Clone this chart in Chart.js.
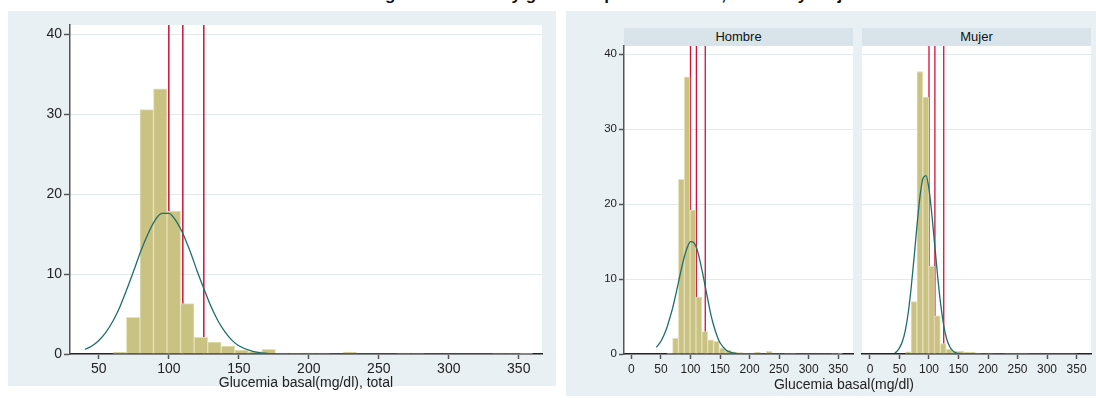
<!DOCTYPE html>
<html><head><meta charset="utf-8">
<script src="https://cdn.jsdelivr.net/npm/chart.js@4.4.1/dist/chart.umd.min.js"></script>
<style>
html,body{margin:0;padding:0;background:#fff;width:1096px;height:403px;overflow:hidden;font-family:"Liberation Sans",Arial,sans-serif;}
.bg{position:absolute;background:#e9f0f3;}
.strip{position:absolute;background:#d8e4ea;color:#111;font-size:13px;text-align:center;line-height:18px;}
canvas{position:absolute;}
#title{position:absolute;left:0;width:1096px;top:-15px;text-align:center;font-weight:bold;font-size:17px;line-height:20px;color:#111;white-space:nowrap;}
#xtitleSex{position:absolute;left:744px;width:200px;top:376px;text-align:center;font-size:14px;color:#222;}
</style>
</head><body>
<div id="title">Distribución de la glucemia basal y glucemia por sexo: total, hombre y mujer</div>
<div class="bg" style="left:8px;top:11px;width:548px;height:375px;"></div>
<div class="bg" style="left:566px;top:11px;width:530px;height:385px;"></div>
<div class="strip" id="s0" style="left:624px;top:28px;width:229px;height:18px;"></div>
<div class="strip" id="s1" style="left:862px;top:28px;width:229px;height:18px;"></div>
<canvas id="cTotal" width="548" height="390" style="left:8px;top:11px;"></canvas>
<canvas id="cHombre" width="292" height="390" style="left:566px;top:11px;"></canvas>
<canvas id="cMujer" width="238" height="390" style="left:858px;top:11px;"></canvas>
<div id="xtitleSex"></div>
<script>
// ---- data ----
const binCentersTotal = [64.84, 74.52, 84.20, 93.88, 103.56, 113.24, 122.92, 132.60, 142.28, 151.96, 161.64, 171.32, 181.00, 190.68, 200.36, 210.04, 219.72, 229.40, 239.08, 248.76, 258.44, 268.12, 277.80, 287.48, 297.16, 306.84, 316.52, 326.20, 335.88, 345.56, 355.24];
const pctTotal = [0.2, 4.6, 30.6, 33.2, 17.9, 6.3, 2.1, 1.5, 1.0, 0.5, 0.3, 0.6, 0.1, 0.1, 0.1, 0.1, 0, 0.25, 0, 0, 0, 0.1, 0.1, 0, 0, 0, 0, 0, 0.1, 0.1, 0.1];

const binCentersSex = [64.66, 74.58, 84.50, 94.42, 104.34, 114.26, 124.18, 134.10, 144.02, 153.94, 163.86, 173.78, 183.70, 193.62, 203.54, 213.46, 223.38, 233.30, 243.22, 253.14, 263.06, 272.98, 282.90, 292.82, 302.74, 312.66, 322.58, 332.50, 342.42, 352.34];
const pctHombre = [0.13, 2.1, 23.3, 37.0, 19.2, 7.6, 3.0, 1.9, 1.7, 0.8, 0.5, 0.3, 0.18, 0.13, 0.13, 0.27, 0, 0.35, 0, 0, 0.13, 0.13, 0, 0, 0, 0, 0, 0, 0.1, 0.1];
const pctMujer = [0.3, 7.0, 37.7, 34.3, 11.7, 5.1, 1.4, 0.67, 0.4, 0.4, 0.27, 0.27, 0.13, 0, 0.13, 0, 0, 0.13, 0.13, 0.13, 0.13, 0, 0, 0, 0, 0, 0, 0, 0, 0];

const curveTotalX = [40, 45, 50, 55, 60, 65, 70, 75, 80, 85, 90, 95, 100, 105, 110, 115, 120, 125, 130, 135, 140, 145, 150, 160, 170, 180, 200, 250, 300, 350];
const curveTotalY = [0.57, 1.01, 1.7, 2.72, 4.1, 5.9, 8.1, 10.45, 12.9, 15.0, 16.7, 17.6, 17.6, 16.7, 15.1, 12.95, 10.5, 8.2, 6.0, 4.2, 2.8, 1.74, 1.04, 0.32, 0.08, 0.02, 0, 0, 0, 0];

const curveHombreX = [42, 45, 50, 55, 60, 65, 70, 75, 80, 85, 90, 95, 100, 105, 110, 115, 120, 125, 130, 135, 140, 145, 150, 160, 170, 180, 200, 250, 300, 350];
const curveHombreY = [0.9, 1.15, 1.7, 2.5, 3.5, 4.8, 6.2, 7.9, 9.7, 11.5, 13.1, 14.3, 15.0, 14.9, 14.2, 12.8, 11.0, 9.0, 7.0, 5.1, 3.6, 2.4, 1.5, 0.55, 0.18, 0.05, 0, 0, 0, 0];

const curveMujerX = [42, 45, 50, 55, 60, 65, 70, 75, 80, 85, 90, 95, 100, 105, 110, 115, 120, 125, 130, 135, 140, 145, 150, 160, 200, 250, 300, 350];
const curveMujerY = [0.15, 0.3, 0.81, 1.7, 3.2, 5.6, 9.0, 13.1, 17.4, 21.2, 23.5, 23.8, 22.0, 18.5, 14.3, 10.1, 6.5, 3.8, 2.0, 1.0, 0.45, 0.18, 0.07, 0.01, 0, 0, 0, 0];

const cutoffs = [100, 110, 125];
const yTickVals = [0, 10, 20, 30, 40];
const xTickValsTotal = [50, 100, 150, 200, 250, 300, 350];
const xTickValsSex = [0, 50, 100, 150, 200, 250, 300, 350];
const xTitleTotal = 'Glucemia basal(mg/dl), total';
const xTitleSex = 'Glucemia basal(mg/dl)';
const stripLabels = ['Hombre', 'Mujer'];

// ---- styles ----
const FONT = '"Liberation Sans", Arial, sans-serif';
const BAR_FILL = '#c9c283';
const BAR_EDGE = '#e4e0b9';
const CURVE = '#1f6e6b';
const RED = '#d0103a';
const GRID = '#e2eaee';

document.getElementById('s0').textContent = stripLabels[0];
document.getElementById('s1').textContent = stripLabels[1];
document.getElementById('xtitleSex').textContent = xTitleSex;

const whitePlot = {
  id: 'whitePlot',
  beforeDraw(chart) {
    const a = chart.chartArea, ctx = chart.ctx;
    ctx.save(); ctx.fillStyle = '#ffffff';
    ctx.fillRect(a.left, a.top, a.right - a.left, a.bottom - a.top);
    ctx.restore();
  }
};

function build(id, c) {
  const datasets = [];
  cutoffs.forEach(v => datasets.push({
    type: 'line', data: [{x: v, y: 0}, {x: v, y: c.ymax}],
    borderColor: RED, borderWidth: c.redW, pointRadius: 0, order: 3
  }));
  datasets.push({
    type: 'bar', data: c.bins.map((b, i) => ({x: b, y: c.pct[i]})),
    backgroundColor: BAR_FILL, borderColor: BAR_EDGE, borderWidth: 1,
    barPercentage: 1, categoryPercentage: 1, order: 2
  });
  datasets.push({
    type: 'line', data: c.cx.map((x, i) => ({x: x, y: c.cy[i]})),
    borderColor: CURVE, borderWidth: 1.3, pointRadius: 0,
    cubicInterpolationMode: 'monotone', order: 1
  });
  return new Chart(document.getElementById(id), {
    type: 'bar',
    data: {datasets},
    plugins: [whitePlot],
    options: {
      responsive: false, animation: false, events: [],
      layout: {padding: c.pad},
      plugins: {legend: {display: false}, tooltip: {enabled: false}},
      scales: {
        x: {
          type: 'linear', min: c.xmin, max: c.xmax, offset: false,
          afterBuildTicks: s => { s.ticks = c.xTicks.map(v => ({value: v})); },
          afterFit: s => { s.height = c.xh; },
          grid: {display: true, drawOnChartArea: false, drawTicks: true, tickLength: c.xtl, tickColor: '#555', tickWidth: 1.5, offset: false},
          border: {display: true, color: '#222', width: 1.5},
          ticks: {font: {family: FONT, size: c.xfs}, color: '#222', padding: c.xpad, maxRotation: 0, autoSkip: false},
          title: {display: !!c.xTitle, text: c.xTitle || '', color: '#222', font: {family: FONT, size: 14}, padding: {top: 0, bottom: 9.5}}
        },
        y: {
          type: 'linear', min: 0, max: c.ymax,
          afterBuildTicks: s => { s.ticks = yTickVals.map(v => ({value: v})); },
          afterFit: s => { s.width = c.yw; },
          grid: {color: GRID, lineWidth: 1, drawTicks: c.showY, tickLength: c.ytl, tickColor: '#555', tickWidth: 1.5},
          border: {display: c.showY, color: '#555', width: 1.5},
          ticks: {display: c.showY, font: {family: FONT, size: c.yfs}, color: '#222', padding: 2}
        }
      }
    }
  });
}

build('cTotal', {
  bins: binCentersTotal, pct: pctTotal, cx: curveTotalX, cy: curveTotalY,
  xmin: 29.4, xmax: 366.6, ymax: 41.2, xTicks: xTickValsTotal, xTitle: xTitleTotal,
  pad: {left: 0, top: 14, right: 14, bottom: 0}, yw: 62, xh: 47,
  xtl: 5, ytl: 6, xfs: 14, yfs: 14, xpad: 2, showY: true, redW: 1.5
});
build('cHombre', {
  bins: binCentersSex, pct: pctHombre, cx: curveHombreX, cy: curveHombreY,
  xmin: -12.5, xmax: 375, ymax: 41.1, xTicks: xTickValsSex, xTitle: '',
  pad: {left: 0, top: 35, right: 5, bottom: 0}, yw: 58, xh: 47,
  xtl: 5, ytl: 5, xfs: 12, yfs: 11.5, xpad: 3, showY: true, redW: 1.3
});
build('cMujer', {
  bins: binCentersSex, pct: pctMujer, cx: curveMujerX, cy: curveMujerY,
  xmin: -13.5, xmax: 374.5, ymax: 41.1, xTicks: xTickValsSex, xTitle: '',
  pad: {left: 4, top: 35, right: 5, bottom: 0}, yw: 0, xh: 47,
  xtl: 5, ytl: 5, xfs: 12, yfs: 11.5, xpad: 3, showY: false, redW: 1.3
});
</script>
</body></html>
